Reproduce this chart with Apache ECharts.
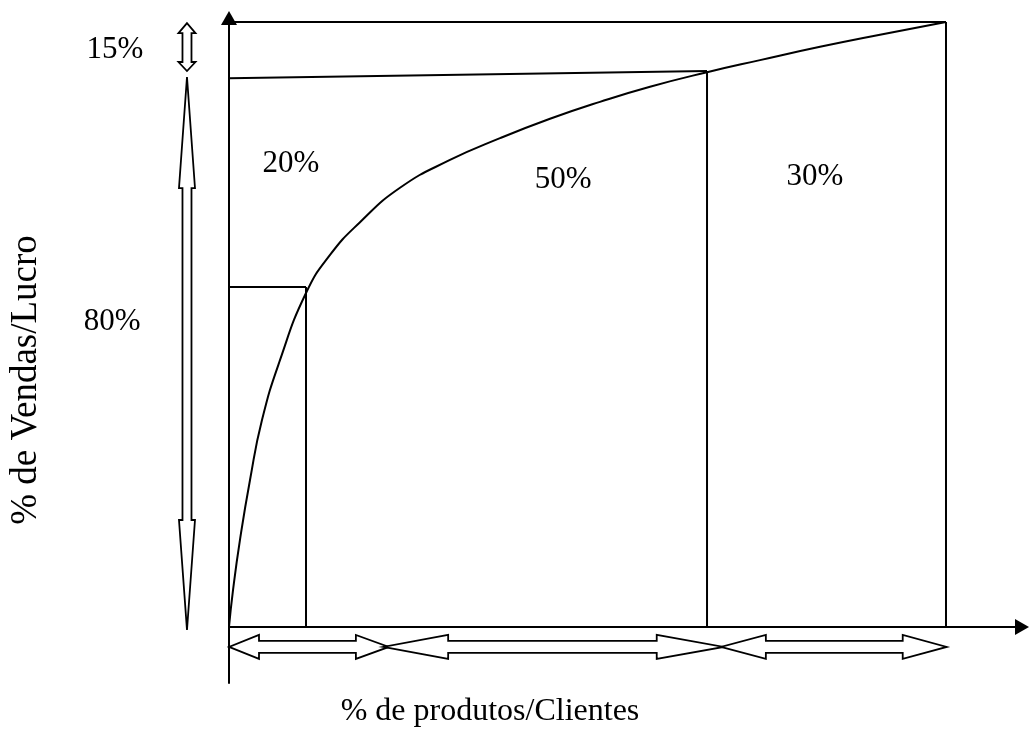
<!DOCTYPE html>
<html>
<head>
<meta charset="utf-8">
<script src="https://cdn.jsdelivr.net/npm/echarts@6/dist/echarts.min.js"></script>
<style>
html,body{margin:0;padding:0;background:#fff;}
#chart{width:1031px;height:733px;}
</style>
</head>
<body>
<div id="chart"></div>
<script>
// curva ABC, valores em %
var curve_x = [0, 0.56, 1.53, 2.93, 4.6, 7.11, 10.74, 14.09, 18.27, 23.85, 30.82, 37.8, 44.77, 51.74, 58.72, 66.67, 74.06, 82.43, 90.79, 100];
var curve_y = [0, 6.1, 14.4, 24.3, 34.2, 44.1, 55.2, 61.5, 66.9, 72.6, 77.2, 80.8, 84.0, 86.8, 89.3, 91.7, 93.7, 95.9, 97.9, 100];

// linhas das classes: [x1, y1, x2, y2]
var guide_lines = [
    [10.74, 0, 10.74, 56.2],
    [0, 56.2, 10.74, 56.2],
    [66.67, 0, 66.67, 91.9],
    [0, 90.7, 66.67, 91.9],
    [100, 0, 100, 100],
    [0, 100, 100, 100]
];

// setas duplas: [x1, y1, x2, y2]
var arrows = [
    [0, -3.3, 22.3, -3.3],
    [21.5, -3.3, 69.0, -3.3],
    [68.6, -3.3, 100.1, -3.3],
    [-5.86, 99.8, -5.86, 91.9],
    [-5.86, 90.9, -5.86, -0.5]
];

var pct_labels = ['20%', '50%', '30%', '15%', '80%'];
var pct_x = [8.65, 46.6, 81.7, -15.9, -16.3];
var pct_y = [76.5, 73.9, 74.4, 95.4, 50.4];

var x_title = '% de produtos/Clientes';
var y_title = '% de Vendas/Lucro';

var font_family = '"Liberation Serif", "Times New Roman", serif';
// tamanho das pontas (px): cabeca inicio, cabeca fim, meia largura haste, meia largura ponta
var arrow_style = [
    {head: [30, 33], shaft: 6, width: 12},
    {head: [65, 67], shaft: 6, width: 12},
    {head: [45, 44], shaft: 6, width: 12},
    {head: [10, 9], shaft: 4.5, width: 8.5},
    {head: [111, 110], shaft: 4.5, width: 8}
];

var chart = echarts.init(document.getElementById('chart'));

var curve_data = [];
for (var i = 0; i < curve_x.length; i++) {
    curve_data.push([curve_x[i], curve_y[i]]);
}
var label_data = [];
for (var j = 0; j < pct_labels.length; j++) {
    label_data.push([pct_x[j], pct_y[j], pct_labels[j]]);
}

var axis_common = {
    type: 'value',
    axisTick: {show: false},
    axisLabel: {show: false},
    splitLine: {show: false},
    axisLine: {
        show: true,
        onZero: true,
        symbol: ['none', 'triangle'],
        symbolSize: [16, 14],
        lineStyle: {color: '#000', width: 2}
    }
};

chart.setOption({
    animation: false,
    backgroundColor: '#fff',
    grid: {left: 229, right: 9, top: 18, bottom: 50},
    xAxis: echarts.util.merge({min: 0, max: 110.6}, axis_common, true),
    yAxis: echarts.util.merge({min: -9.26, max: 100.66}, axis_common, true),
    graphic: [
        {
            type: 'text', x: 490, y: 712,
            style: {text: x_title, font: '32px ' + font_family, fill: '#000',
                align: 'center', verticalAlign: 'middle', textAlign: 'center', textVerticalAlign: 'middle'}
        },
        {
            type: 'text', x: 26, y: 380, rotation: Math.PI / 2,
            style: {text: y_title, font: '37px ' + font_family, fill: '#000',
                align: 'center', verticalAlign: 'middle', textAlign: 'center', textVerticalAlign: 'middle'}
        }
    ],
    series: [
        {
            type: 'custom',
            data: guide_lines,
            renderItem: function (params, api) {
                var a = api.coord([api.value(0), api.value(1)]);
                var b = api.coord([api.value(2), api.value(3)]);
                return {
                    type: 'line',
                    shape: {x1: a[0], y1: a[1], x2: b[0], y2: b[1]},
                    style: {stroke: '#000', lineWidth: 2}
                };
            }
        },
        {
            type: 'line',
            data: curve_data,
            smooth: 0.5,
            showSymbol: false,
            symbol: 'none',
            lineStyle: {color: '#000', width: 2}
        },
        {
            type: 'custom',
            data: arrows,
            renderItem: function (params, api) {//seta dupla vazada
                var p1 = api.coord([api.value(0), api.value(1)]);
                var p2 = api.coord([api.value(2), api.value(3)]);
                var st = arrow_style[params.dataIndex];
                var dx = p2[0] - p1[0], dy = p2[1] - p1[1];
                var len = Math.sqrt(dx * dx + dy * dy);
                var ux = dx / len, uy = dy / len;
                var nx = -uy, ny = ux;
                function pt(a, n) {
                    return [p1[0] + ux * a + nx * n, p1[1] + uy * a + ny * n];
                }
                var h1 = st.head[0], h2 = st.head[1], s = st.shaft, w = st.width;
                var pts = [pt(0, 0), pt(h1, w), pt(h1, s), pt(len - h2, s), pt(len - h2, w), pt(len, 0),
                    pt(len - h2, -w), pt(len - h2, -s), pt(h1, -s), pt(h1, -w)];
                return {
                    type: 'polygon',
                    shape: {points: pts},
                    style: {fill: '#fff', stroke: '#000', lineWidth: 1.8, lineJoin: 'miter'}
                };
            }
        },
        {
            type: 'custom',
            data: label_data,
            renderItem: function (params, api) {
                var p = api.coord([api.value(0), api.value(1)]);
                return {
                    type: 'text',
                    x: p[0], y: p[1],
                    style: {text: label_data[params.dataIndex][2], font: '31px ' + font_family, fill: '#000',
                        align: 'center', verticalAlign: 'middle', textAlign: 'center', textVerticalAlign: 'middle'}
                };
            }
        }
    ]
});
</script>
</body>
</html>
